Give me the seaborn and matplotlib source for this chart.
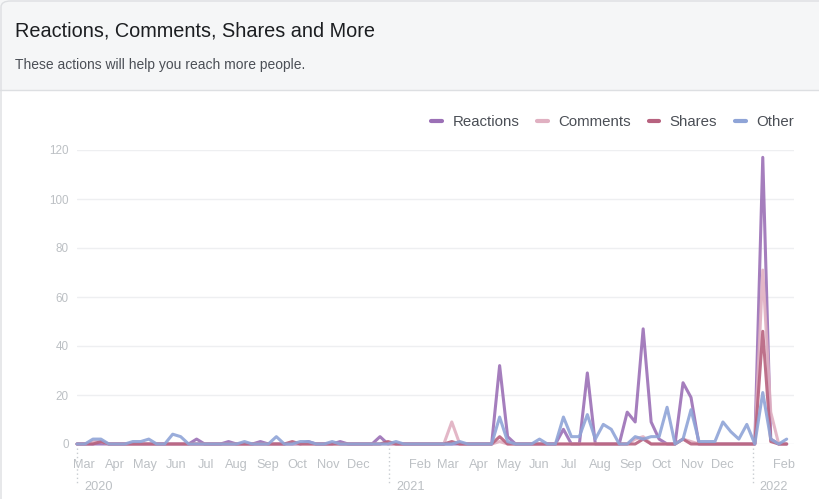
import numpy as np
import pandas as pd
import matplotlib
matplotlib.use("Agg")
import matplotlib.pyplot as plt
import matplotlib.dates as mdates
import matplotlib.transforms as mtransforms
from matplotlib.lines import Line2D
from matplotlib.patches import Rectangle, FancyBboxPatch
import seaborn as sns

# ---------------- data ----------------
start_date = "2020-02-23"
n_points = 90
step = "8D"

reactions = [0, 0, 0, 0, 0, 0, 0, 0, 0, 0,
             0, 0, 0, 0, 0, 2, 0, 0, 0, 1,
             0, 0, 0, 1, 0, 0, 0, 0, 0, 1,
             0, 0, 0, 1, 0, 0, 0, 0, 3, 0,
             0, 0, 0, 0, 0, 0, 0, 0, 0, 0,
             0, 0, 0, 32, 3, 0, 0, 0, 0, 0,
             0, 6, 0, 0, 29, 0, 0, 0, 0, 13,
             9, 47, 9, 2, 0, 0, 25, 19, 0, 0,
             0, 0, 0, 0, 0, 0, 117, 2, 0, 0]

comments = [0, 0, 1, 1, 0, 0, 0, 0, 0, 0,
            0, 0, 0, 0, 0, 0, 0, 0, 0, 0,
            0, 0, 0, 0, 0, 0, 0, 0, 0, 0,
            0, 0, 0, 0, 0, 0, 0, 0, 0, 0,
            0, 0, 0, 0, 0, 0, 0, 9, 0, 0,
            0, 0, 0, 1, 0, 0, 0, 0, 0, 0,
            0, 0, 0, 0, 0, 0, 0, 0, 0, 0,
            2, 3, 0, 0, 0, 0, 2, 1, 0, 0,
            0, 0, 0, 0, 0, 0, 71, 13, 0, 0]

shares = [0, 0, 0, 1, 0, 0, 0, 0, 0, 0,
          0, 0, 0, 0, 0, 0, 0, 0, 0, 0,
          0, 0, 0, 0, 0, 0, 0, 1, 0, 0,
          0, 0, 0, 0, 0, 0, 0, 0, 0, 1,
          0, 0, 0, 0, 0, 0, 0, 1, 0, 0,
          0, 0, 0, 3, 0, 0, 0, 0, 0, 0,
          0, 0, 0, 0, 0, 0, 0, 0, 0, 0,
          0, 2, 0, 0, 0, 0, 2, 0, 0, 0,
          0, 0, 0, 0, 0, 0, 46, 1, 0, 0]

other = [0, 0, 2, 2, 0, 0, 0, 1, 1, 2,
         0, 0, 4, 3, 0, 0, 0, 0, 0, 0,
         0, 1, 0, 0, 0, 3, 0, 0, 1, 1,
         0, 0, 1, 0, 0, 0, 0, 0, 0, 0,
         1, 0, 0, 0, 0, 0, 0, 0, 1, 0,
         0, 0, 0, 11, 1, 0, 0, 0, 2, 0,
         0, 11, 3, 3, 12, 2, 8, 6, 0, 0,
         3, 2, 3, 3, 15, 0, 2, 14, 1, 1,
         1, 9, 5, 2, 8, 0, 21, 2, 0, 2]

series_names = ["Reactions", "Comments", "Shares", "Other"]
series_colors = ["#9b70b6", "#e0b0c1", "#b7627f", "#8fa4d7"]
y_ticks = [0, 20, 40, 60, 80, 100, 120]
year_marks = ["2020-02-23", "2021-01-01", "2022-01-01"]
year_labels = ["2020", "2021", "2022"]
title = "Reactions, Comments, Shares and More"
subtitle = "These actions will help you reach more people."

# ---------------- figure ----------------
sns.set_style("white")
plt.rcParams["font.family"] = ["Liberation Sans", "DejaVu Sans"]

W, H = 819, 499
fig = plt.figure(figsize=(W / 100, H / 100), dpi=100, facecolor="white")

def fx(px):
    return px / W

def fy(py):
    return 1 - py / H

# header band
fig.patches.append(Rectangle((0, fy(90)), 1, 90 / H, transform=fig.transFigure,
                             facecolor="#f5f6f7", edgecolor="none", zorder=0))
fig.add_artist(Line2D([0, 1], [fy(90), fy(90)], transform=fig.transFigure,
                      color="#dddfe2", lw=1))
fig.patches.append(FancyBboxPatch((fx(1), fy(560)), 1.2, 560 / H - 1 / H,
                                  boxstyle="round,pad=0,rounding_size=0.012",
                                  transform=fig.transFigure, facecolor="none",
                                  edgecolor="#dddfe2", lw=1, zorder=1))

fig.text(fx(15), fy(31), title, fontsize=14.35, color="#1c1e21", va="center", ha="left")
fig.text(fx(15), fy(64.5), subtitle, fontsize=10.0, color="#4b4f56", va="center", ha="left")

# axes
ax = fig.add_axes([fx(77), fy(444), (794 - 77) / W, (444 - 150) / H])
dates = pd.date_range(start_date, periods=n_points, freq=step)
df = pd.DataFrame({"Date": dates, "Reactions": reactions, "Comments": comments,
                   "Shares": shares, "Other": other})
long_df = df.melt(id_vars="Date", var_name="Metric", value_name="Value")
palette = dict(zip(series_names, series_colors))

sns.lineplot(data=long_df, x="Date", y="Value", hue="Metric", hue_order=series_names,
             palette=palette, linewidth=2.2, alpha=0.9, legend=False, ax=ax)
for ln in ax.get_lines():
    ln.set_clip_on(False)
    ln.set_solid_joinstyle("round")

ax.set_ylim(0, 120)
ax.set_yticks(y_ticks)
ax.set_xlim(pd.Timestamp("2020-02-23"), pd.Timestamp("2022-02-11 08:00"))
ax.set_xlabel("")
ax.set_ylabel("")
for s in ax.spines.values():
    s.set_visible(False)
ax.grid(axis="y", color="#eeeff1", lw=1)
ax.grid(axis="x", visible=False)
ax.set_axisbelow(True)

ax.tick_params(axis="y", length=0, pad=6, labelsize=8.4, labelcolor="#bcc0c4")
ax.xaxis.set_major_locator(mdates.MonthLocator(bymonth=range(2, 13)))
ax.xaxis.set_major_formatter(mdates.DateFormatter("%b"))
ax.xaxis.set_minor_locator(mdates.MonthLocator(bymonthday=16))
ax.tick_params(axis="x", which="major", length=0, pad=11, labelsize=9.2, labelcolor="#bcc0c4")
ax.tick_params(axis="x", which="minor", length=3.5, width=0.8, color="#d5d8dc")

trans = mtransforms.blended_transform_factory(ax.transData, ax.transAxes)
for d, lab in zip(year_marks, year_labels):
    xd = mdates.date2num(pd.Timestamp(d))
    ax.plot([xd, xd], [-0.012, -0.14], transform=trans, ls=(0, (1, 2)),
            color="#c8ccd1", lw=1, clip_on=False)
    ax.annotate(lab, xy=(xd, 0), xycoords=trans, xytext=(5, -31),
                textcoords="offset points", ha="left", va="center",
                fontsize=9.2, color="#bcc0c4", annotation_clip=False)

handles = [Line2D([], [], color=c, lw=3.0, solid_capstyle="round") for c in series_colors]
fig.legend(handles, series_names, loc="center right",
           bbox_to_anchor=(fx(794), fy(122.5)), bbox_transform=fig.transFigure,
           ncol=4, frameon=False, fontsize=10.8, labelcolor="#4b4f56",
           handlelength=0.7, handletextpad=0.7, columnspacing=1.2,
           borderpad=0, borderaxespad=0)

fig.savefig("out.png", dpi=100, facecolor="white")
